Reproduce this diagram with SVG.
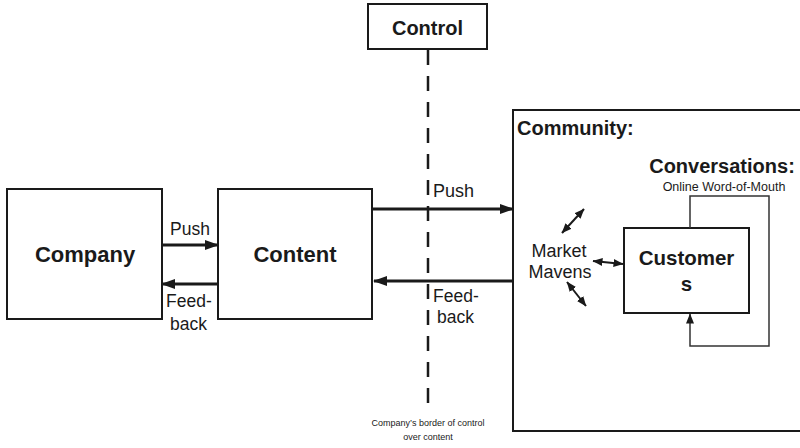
<svg xmlns="http://www.w3.org/2000/svg" width="800" height="448" viewBox="0 0 800 448">
  <style>
    .box { fill: #ffffff; stroke: #1a1a1a; stroke-width: 2; }
    .bold { font-family: "Liberation Sans", Arial, sans-serif; font-weight: bold; fill: #1a1a1a; }
    .reg { font-family: "Liberation Sans", Arial, sans-serif; fill: #1a1a1a; }
    .flow { stroke: #1a1a1a; stroke-width: 3; fill: none; }
    .thin { stroke: #1a1a1a; stroke-width: 2; fill: none; }
    .loop { stroke: #333333; stroke-width: 1.5; fill: none; }
  </style>
  <defs>
    <marker id="head" markerUnits="userSpaceOnUse" markerWidth="14" markerHeight="12" viewBox="0 0 14 12" refX="13" refY="6" orient="auto">
      <path d="M0,1 L14,6 L0,11 Z" fill="#1a1a1a"/>
    </marker>
    <marker id="headSmall" markerUnits="userSpaceOnUse" markerWidth="10" markerHeight="9" viewBox="0 0 10 9" refX="9.5" refY="4.5" orient="auto-start-reverse">
      <path d="M0,0.5 L10,4.5 L0,8.5 Z" fill="#1a1a1a"/>
    </marker>
  </defs>

  <!-- boundary of control -->
  <g id="border">
    <line x1="428" y1="50" x2="428" y2="412" stroke="#1a1a1a" stroke-width="2.5" stroke-dasharray="15 11"/>
    <text class="reg" font-size="9" x="428" y="426" text-anchor="middle">Company’s border of control</text>
    <text class="reg" font-size="9" x="428" y="440" text-anchor="middle">over content</text>
  </g>

  <g id="control">
    <rect class="box" x="368" y="4" width="119" height="45"/>
    <text class="bold" font-size="20" x="427.5" y="35" text-anchor="middle">Control</text>
  </g>

  <g id="company">
    <rect class="box" x="7" y="189" width="155" height="130"/>
    <text class="bold" font-size="22" x="85" y="262" text-anchor="middle">Company</text>
  </g>

  <g id="content">
    <rect class="box" x="218" y="189" width="154" height="130"/>
    <text class="bold" font-size="22" x="295" y="262" text-anchor="middle">Content</text>
  </g>

  <g id="community">
    <rect class="box" x="513" y="110" width="300" height="321" stroke-width="2.5"/>
    <text class="bold" font-size="20" x="517" y="135">Community:</text>
    <text class="bold" font-size="20" x="722" y="173" text-anchor="middle">Conversations:</text>
    <text class="reg" font-size="12.5" x="724" y="191" text-anchor="middle">Online Word-of-Mouth</text>
    <text class="reg" font-size="18" x="559" y="257" text-anchor="middle">Market</text>
    <text class="reg" font-size="18" x="560" y="278" text-anchor="middle">Mavens</text>
  </g>

  <g id="customers">
    <rect class="box" x="624" y="228" width="125" height="85"/>
    <text class="bold" font-size="20.5" x="686.5" y="265" text-anchor="middle">Customer</text>
    <text class="bold" font-size="20.5" x="686.5" y="291" text-anchor="middle">s</text>
  </g>

  <g id="connectors">
    <!-- company / content exchange -->
    <line class="flow" x1="162" y1="245" x2="218" y2="245" marker-end="url(#head)"/>
    <line class="flow" x1="218" y1="284" x2="162" y2="284" marker-end="url(#head)"/>
    <text class="reg" font-size="17.5" x="170" y="235">Push</text>
    <text class="reg" font-size="17.5" x="166" y="307">Feed-</text>
    <text class="reg" font-size="17.5" x="170" y="330">back</text>

    <!-- content / community exchange -->
    <line class="flow" x1="373" y1="209" x2="513" y2="209" marker-end="url(#head)"/>
    <line class="flow" x1="513" y1="281" x2="374" y2="281" marker-end="url(#head)"/>
    <text class="reg" font-size="18" x="433" y="197">Push</text>
    <text class="reg" font-size="17.5" x="433" y="302">Feed-</text>
    <text class="reg" font-size="17.5" x="437" y="323">back</text>

    <!-- market maven chatter -->
    <line class="thin" x1="562" y1="233" x2="584" y2="209" marker-start="url(#headSmall)" marker-end="url(#headSmall)"/>
    <line class="thin" x1="593" y1="261" x2="623" y2="264" marker-start="url(#headSmall)" marker-end="url(#headSmall)"/>
    <line class="thin" x1="567" y1="282" x2="586" y2="306" marker-start="url(#headSmall)" marker-end="url(#headSmall)"/>

    <!-- word-of-mouth loop -->
    <polyline class="loop" points="690,228 690,196 769,196 769,346 690,346 690,314" marker-end="url(#headSmall)"/>
  </g>
</svg>
